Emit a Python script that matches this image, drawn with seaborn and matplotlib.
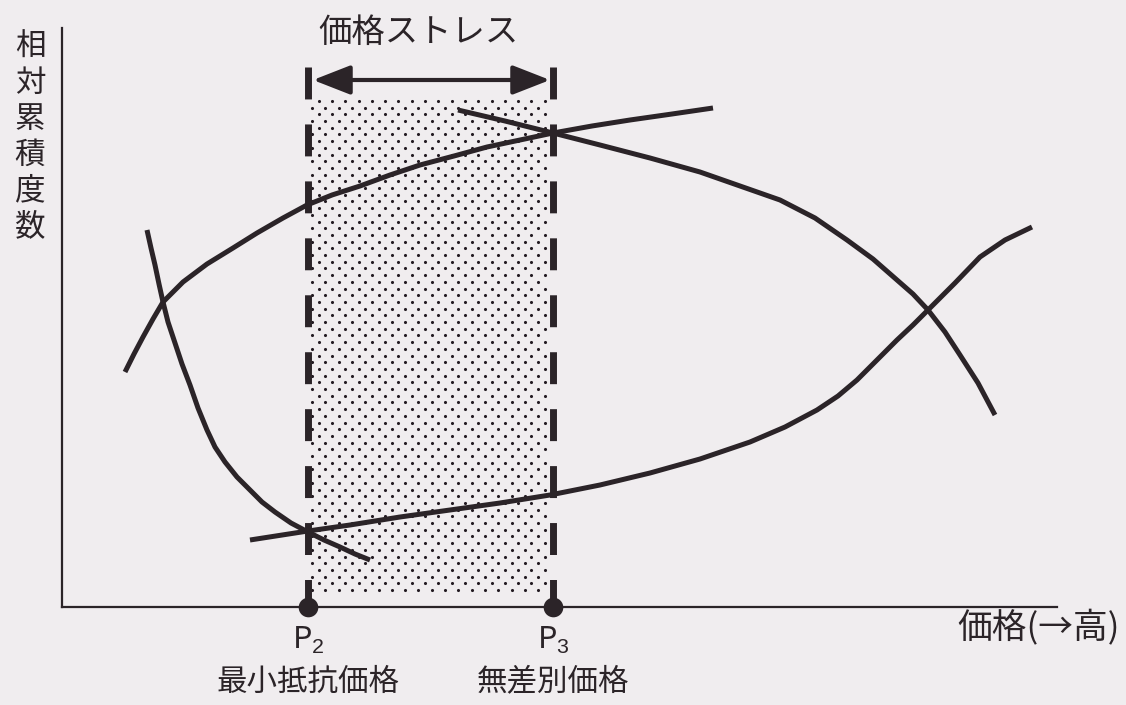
import numpy as np
import pandas as pd
import seaborn as sns
import matplotlib.pyplot as plt

# 価格感度分析の模式図 (x: 価格, y: 相対累積度数, 任意単位で読み取り)
too_cheap_x = [85, 89, 93, 97, 101, 106, 113, 120, 128, 136, 145, 153, 163, 175,
               188, 200, 213, 229, 246, 262, 278, 293, 308]
too_cheap_y = [377, 359, 342, 323, 305, 285, 264, 243, 222, 199, 177, 160, 145, 130,
               117, 105, 95, 84, 75, 67, 60, 53, 47]
cheap_x = [63, 72, 81, 91, 101, 121, 145, 171, 195, 221, 245, 270, 298, 328, 358,
           392, 425, 458, 491, 530, 568, 610, 651]
cheap_y = [235, 253, 270, 288, 305, 325, 343, 359, 374, 389, 402, 412, 421, 432, 442,
           451, 460, 467, 474, 481, 487, 493, 499]
expensive_x = [396, 443, 491, 538, 588, 638, 678, 718, 753, 785, 811, 835, 851, 866,
               883, 898, 916, 933]
expensive_y = [497, 486, 474, 462, 449, 435, 421, 407, 389, 367, 348, 327, 313, 297,
               275, 252, 224, 192]
too_expensive_x = [188, 246, 288, 338, 388, 438, 488, 538, 588, 638, 688, 723, 755,
                   776, 795, 815, 835, 851, 866, 893, 918, 943, 970]
too_expensive_y = [67, 76, 82, 90, 97, 104, 112, 122, 134, 148, 165, 180, 197,
                   211, 227, 247, 267, 282, 297, 324, 350, 367, 380]

price_points = [246, 491]
point_names = ['P$_2$', 'P$_3$']
point_labels = ['最小抵抗価格', '無差別価格']
stress_label = '価格ストレス'
y_label = '相対累積度数'
x_label = '価格(→高)'

ink = '#2b2428'
bg = '#f0edef'

sns.set_theme(style='white')
plt.rcParams['font.family'] = ['Noto Sans CJK JP', 'DejaVu Sans']
plt.rcParams['mathtext.fontset'] = 'custom'
plt.rcParams['mathtext.rm'] = 'Liberation Sans'
plt.rcParams['mathtext.it'] = 'Liberation Sans'

curves = pd.concat([
    pd.DataFrame({'price': too_cheap_x, 'share': too_cheap_y, 'curve': 'too_cheap'}),
    pd.DataFrame({'price': cheap_x, 'share': cheap_y, 'curve': 'cheap'}),
    pd.DataFrame({'price': expensive_x, 'share': expensive_y, 'curve': 'expensive'}),
    pd.DataFrame({'price': too_expensive_x, 'share': too_expensive_y, 'curve': 'too_expensive'}),
])

fig = plt.figure(figsize=(11.26, 7.05), dpi=100, facecolor=bg)
ax = fig.add_axes([62 / 1126, 98 / 705, 995 / 1126, 579 / 705])
ax.set_facecolor(bg)
ax.set_xlim(0, 995)
ax.set_ylim(0, 579)

# dotted band between P2 and P3
cols = np.arange(price_points[0] + 4, price_points[1] - 3, 13.3)
rows = np.arange(17, 510, 6.7)
gx, gy = [], []
for i, r in enumerate(rows):
    shift = 6.65 if i % 2 else 0
    for c in cols + shift:
        if c < price_points[1] - 3:
            gx.append(c)
            gy.append(r)
sns.scatterplot(x=gx, y=gy, s=5, color='#231b22', linewidth=0, ax=ax, zorder=1)

# curves
for name, d in curves.groupby('curve', sort=False):
    sns.lineplot(data=d, x='price', y='share', sort=False, estimator=None,
                 color=ink, lw=3.6, ax=ax, zorder=3, solid_capstyle='butt',
                 solid_joinstyle='round')

# dashed verticals at P2 / P3
for p in price_points:
    ax.plot([p, p], [540, 0], color=ink, lw=5, linestyle=(0, (4.6, 3.6)),
            dash_capstyle='butt', zorder=2)

# double arrow for price stress
ax.annotate('', xy=(price_points[1] - 3, 527), xytext=(price_points[0] + 5, 527),
            arrowprops=dict(arrowstyle='<|-|>,head_length=2.3,head_width=0.9',
                            color=ink, lw=3, shrinkA=0, shrinkB=0,
                            mutation_scale=10))
ax.text(sum(price_points) / 2 - 12, 575, stress_label, ha='center', va='center',
        fontsize=24, color=ink)

# end markers on x axis
sns.scatterplot(x=price_points, y=[0, 0], s=200, color=ink, linewidth=0,
                ax=ax, zorder=5, clip_on=False)

for p, n, lab in zip(price_points, point_names, point_labels):
    ax.text(p, -33, n, ha='center', va='center', fontsize=22, color=ink)
    ax.text(p, -75, lab, ha='center', va='center', fontsize=22, color=ink)

# axis labels
for i, ch in enumerate(y_label):
    ax.text(-32, 560 - i * 36, ch, ha='center', va='center', fontsize=22, color=ink)
ax.text(1058, -21, x_label, ha='right', va='center', fontsize=25, color=ink)

sns.despine(ax=ax)
for s in ['left', 'bottom']:
    ax.spines[s].set_color(ink)
    ax.spines[s].set_linewidth(1.6)
ax.set_xticks([])
ax.set_yticks([])
ax.set_xlabel('')
ax.set_ylabel('')

fig.savefig('out.png', dpi=100, facecolor=bg)
